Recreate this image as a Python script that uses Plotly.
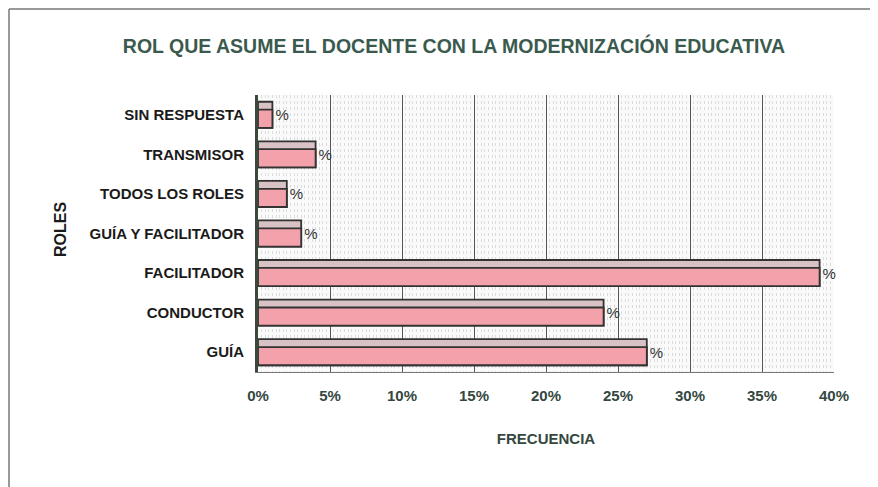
import plotly.graph_objects as go

categories = ["GUÍA", "CONDUCTOR", "FACILITADOR", "GUÍA Y FACILITADOR",
              "TODOS LOS ROLES", "TRANSMISOR", "SIN RESPUESTA"]
values = [0.27, 0.24, 0.39, 0.03, 0.02, 0.04, 0.01]
bar_text = ["%"] * len(values)
x_tickvals = [0, 0.05, 0.10, 0.15, 0.20, 0.25, 0.30, 0.35, 0.40]
x_ticktext = ["0%", "5%", "10%", "15%", "20%", "25%", "30%", "35%", "40%"]

title_text = "ROL QUE ASUME EL DOCENTE CON LA MODERNIZACIÓN EDUCATIVA"
x_title = "FRECUENCIA"
y_title = "ROLES"

# page has an 8px body margin, so figure coords = page coords - 8
W, H = 878, 487
L, R, T, B = 250, 52, 87, 123
pw = W - L - R
ph = H - T - B

fig = go.Figure()
# top (depth) face
fig.add_trace(go.Bar(
    x=values, y=categories, orientation="h",
    marker=dict(color="#d8c2c5", line=dict(color="#333333", width=1.8)),
    width=0.66, offset=-0.33,
    text=bar_text, textposition="outside", cliponaxis=False,
    textfont=dict(family="Liberation Sans", size=15, color="#333333"),
))
# front face
fig.add_trace(go.Bar(
    x=values, y=categories, orientation="h",
    marker=dict(color="#f3a2ab", line=dict(color="#333333", width=1.8)),
    width=0.46, offset=-0.33,
))

fig.update_layout(
    width=W, height=H,
    margin=dict(l=L, r=R, t=T, b=B),
    paper_bgcolor="white", plot_bgcolor="#fafafa",
    showlegend=False, barmode="overlay",
    title=dict(text="<b>" + title_text + "</b>", x=446 / W, xanchor="center",
               y=1 - 38 / H, yanchor="middle",
               font=dict(family="Liberation Sans", size=19.5, color="#3b5a4e")),
    font=dict(family="Liberation Sans"),
)

fig.update_xaxes(
    range=[0, 0.40], tickvals=x_tickvals, ticktext=x_ticktext,
    tickfont=dict(family="Liberation Sans", size=15, color="#34483f", weight="bold"),
    showgrid=True, gridcolor="#555555", gridwidth=1,
    minor=dict(dtick=0.0025, showgrid=True, gridcolor="#dcdcdc", griddash="dot", gridwidth=1),
    showline=True, linecolor="#777777", linewidth=1,
    ticks="", ticklabelstandoff=10,
    title=dict(text="<b>" + x_title + "</b>", standoff=30,
               font=dict(family="Liberation Sans", size=15, color="#34483f")),
    zeroline=False,
)
fig.update_yaxes(
    categoryorder="array", categoryarray=categories,
    tickfont=dict(family="Liberation Sans", size=15, color="#1a1a1a", weight="bold"),
    showline=True, linecolor="#3a4a3a", linewidth=3,
    ticks="", ticklabelstandoff=8,
)

fig.add_annotation(
    text="<b>" + y_title + "</b>", textangle=-90,
    xref="paper", yref="paper", x=(52 - L) / pw, y=(H - B - (230 - 8)) / ph,
    xanchor="center", yanchor="middle", showarrow=False,
    font=dict(family="Liberation Sans", size=16, color="#1a1a1a"),
)

# outer frame (decorative)
fx = (1 - L) / pw
fy = (H - B - 1) / ph
fig.add_shape(type="line", xref="paper", yref="paper", x0=fx, x1=fx, y0=-1, y1=fy,
              line=dict(color="#777777", width=1.5))
fig.add_shape(type="line", xref="paper", yref="paper", x0=fx, x1=2, y0=fy, y1=fy,
              line=dict(color="#777777", width=1.5))

fig.write_html("out.html")
